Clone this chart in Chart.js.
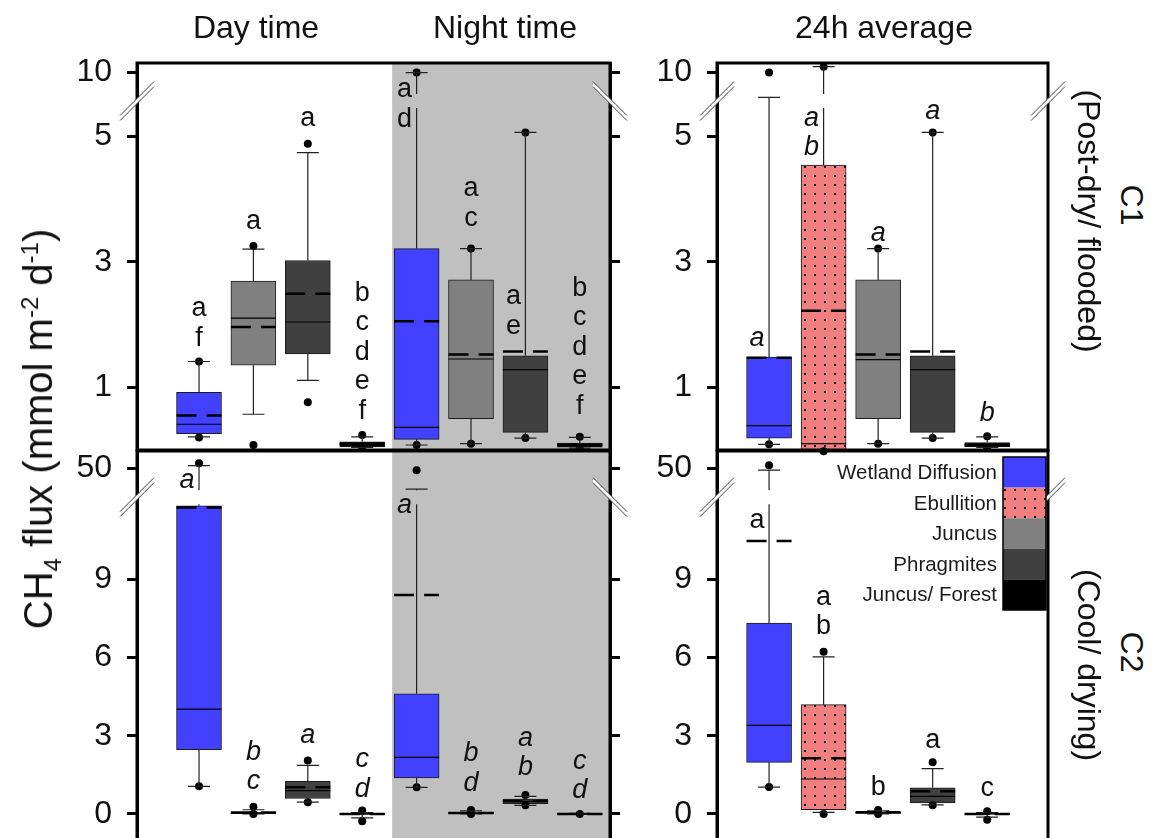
<!DOCTYPE html>
<html>
<head>
<meta charset="utf-8">
<script src="https://cdn.jsdelivr.net/npm/chart.js@4.4.1/dist/chart.umd.min.js"></script>
<style>
  html, body { margin: 0; padding: 0; background: #fff; overflow: hidden; }
  body { width: 1153px; height: 838px; position: relative; font-family: "Liberation Sans", Arial, sans-serif; color: #111; }
  canvas { position: absolute; }
  .title { position: absolute; top: 11px; font-size: 32px; line-height: 32px; white-space: nowrap; transform: translateX(-50%); }
  .rot { position: absolute; font-size: 32px; line-height: 32px; white-space: nowrap; transform: translate(-50%, -50%) rotate(90deg); }
  #ytitle { font-size: 40px; line-height: 40px; transform: translate(-50%, -50%) rotate(-90deg); }
  sub, sup { font-size: 60%; line-height: 0; }
</style>
</head>
<body>
<canvas id="c1left" width="650" height="460" style="left:0;top:0"></canvas>
<canvas id="c1right" width="430" height="460" style="left:640px;top:0"></canvas>
<canvas id="c2left" width="650" height="410" style="left:0;top:440px"></canvas>
<canvas id="c2right" width="430" height="410" style="left:640px;top:440px"></canvas>

<div class="title" style="left:256px">Day time</div>
<div class="title" style="left:505px">Night time</div>
<div class="title" style="left:884px">24h average</div>
<div class="rot" id="ytitle" style="left:38px;top:429px">CH<sub>4</sub> flux (mmol m<sup>-2</sup> d<sup>-1</sup>)</div>
<div class="rot" style="left:1132px;top:205px">C1</div>
<div class="rot" style="left:1089px;top:221px">(Post-dry/ flooded)</div>
<div class="rot" style="left:1132px;top:652px">C2</div>
<div class="rot" style="left:1089px;top:665px">(Cool/ drying)</div>

<script>
const groups = ["Wetland Diffusion", "Ebullition", "Juncus", "Phragmites", "Juncus/ Forest"]
const dayNightGroups = [0, 2, 3, 4, 0, 2, 3, 4]   // day time then night time
const avgGroups = [0, 1, 2, 3, 4]

const c1Ticks = [1, 3, 5, 10]
const c2Ticks = [0, 3, 6, 9, 50]

// box rows: [lower whisker, Q1, median, Q3, upper whisker, mean]
const c1DayNight = [
  [0.21, 0.26, 0.41, 0.92, 1.41, 0.55],
  [0.57, 1.35, 2.10, 2.69, 3.20, 1.96],
  [1.11, 1.53, 2.04, 3.02, 4.74, 2.49],
  [0.04, 0.05, 0.09, 0.13, 0.21, 0.09],
  [0.08, 0.17, 0.36, 3.21, 10.0, 2.05],
  [0.10, 0.50, 1.45, 2.71, 3.21, 1.52],
  [0.19, 0.28, 1.28, 1.50, 5.06, 1.57],
  [0.03, 0.045, 0.08, 0.11, 0.20, 0.08]
]
const c1DayNightOut = [[1.41, 0.20], [3.25, 0.08], [4.88, 0.76], [0.24, 0.03], [10.0, 0.08], [3.21, 0.10], [5.06, 0.19], [0.21, 0.02]]

const c1Avg = [
  [0.09, 0.19, 0.39, 1.48, 7.44, 1.47],
  [-0.02, 0.0, 0.10, 4.54, 10.6, 2.22],
  [0.10, 0.50, 1.44, 2.71, 3.21, 1.52],
  [0.19, 0.28, 1.28, 1.50, 5.06, 1.57],
  [0.04, 0.05, 0.08, 0.12, 0.21, 0.08]
]
const c1AvgOut = [[10.0, 0.09], [10.6, -0.02], [3.21, 0.10], [5.06, 0.19], [0.22, 0.03]]

const c2DayNight = [
  [1.06, 2.46, 4.02, 11.82, 50.9, 11.75],
  [0.0, 0.01, 0.03, 0.06, 0.16, 0.05],
  [0.45, 0.59, 0.89, 1.25, 1.86, 1.02],
  [-0.15, -0.02, 0.0, 0.02, 0.05, 0.0],
  [1.02, 1.38, 2.17, 4.61, 42.4, 8.40],
  [0.0, 0.01, 0.03, 0.06, 0.12, 0.04],
  [0.33, 0.39, 0.48, 0.57, 0.67, 0.50],
  [-0.02, -0.01, 0.0, 0.01, 0.02, 0.0]
]
const c2DayNightOut = [[51.8, 1.06], [0.28, 0.0], [2.05, 0.45], [0.13, -0.28], [49.3, 1.02], [0.15, 0.0], [0.73, 0.33], [0.0]]

const c2Avg = [
  [1.03, 1.98, 3.40, 7.32, 49.3, 10.47],
  [0.06, 0.16, 1.34, 4.19, 6.02, 2.14],
  [0.0, 0.02, 0.05, 0.07, 0.12, 0.06],
  [0.35, 0.42, 0.67, 1.00, 1.74, 0.87],
  [-0.12, -0.01, 0.0, 0.01, 0.05, 0.0]
]
const c2AvgOut = [[51.1, 1.03], [6.22, 0.0], [0.15, 0.0], [1.98, 0.33], [0.1, -0.22]]

// significance letters (one per line) and the value of the first line
const c1DayNightLetters = ["af", "a", "a", "bcdef", "ad", "ac", "ae", "bcdef"]
const c1DayNightLetterAt = [2.27, 3.65, 5.30, 2.51, 8.35, 4.18, 2.46, 2.59]
const c1AvgLetters = ["a", "ab", "a", "a", "b"]
const c1AvgLetterAt = [1.80, 5.30, 3.47, 5.41, 0.60]
const c2DayNightLetters = ["a", "bc", "a", "cd", "a", "bd", "ab", "cd"]
const c2DayNightLetterAt = [45.8, 2.40, 3.04, 2.11, 11.85, 2.34, 2.94, 2.05]
const c2AvgLetters = ["a", "ab", "b", "a", "c"]
const c2AvgLetterAt = [11.28, 8.34, 1.06, 2.87, 1.0]

const FONT = '"Liberation Sans", Arial, sans-serif'
const SHADE = "#c0c0c0"
const groupFill = ["#4141ff", null, "#808080", "#404040", "#000000"]

// broken axes: lower part linear, upper part squeezed
const fwdC1 = v => v <= 5.55 ? v : 5.55 + (v - 7) * 0.155
const fwdC2 = v => v <= 12.1 ? v : 12.2 + (v - 40) * 0.106

Chart.defaults.font.family = FONT

function dotPattern(ctx) {
  const t = document.createElement("canvas")
  t.width = 10; t.height = 9
  const g = t.getContext("2d")
  g.fillStyle = "#f27f7f"; g.fillRect(0, 0, 10, 9)
  g.fillStyle = "#000"; g.fillRect(4, 4, 2, 2)
  return ctx.createPattern(t, "repeat")
}
function fillFor(ctx, gi) { return gi === 1 ? dotPattern(ctx) : groupFill[gi] }

function breakMark(ctx, x, y, dir) {
  const dx = 17, dy = 17 * dir, g = 2.5
  ctx.save()
  ctx.fillStyle = "#fff"
  ctx.beginPath()
  ctx.moveTo(x - dx, y + dy - g); ctx.lineTo(x + dx, y - dy - g)
  ctx.lineTo(x + dx, y - dy + g); ctx.lineTo(x - dx, y + dy + g)
  ctx.closePath(); ctx.fill()
  ctx.strokeStyle = "#444"; ctx.lineWidth = 1
  ctx.beginPath()
  ctx.moveTo(x - dx, y + dy - g); ctx.lineTo(x + dx, y - dy - g)
  ctx.moveTo(x - dx, y + dy + g); ctx.lineTo(x + dx, y - dy + g)
  ctx.stroke()
  ctx.restore()
}

function yAxis(cfg, side, labels) {
  return {
    type: "linear", position: side, min: cfg.ymin, max: cfg.ymax,
    afterBuildTicks: s => { s.ticks = cfg.ticks.map(v => ({ value: cfg.fwd(v) })) },
    afterFit: s => { s.width = side === "left" ? cfg.axisWidth : 30; s.paddingTop = 0; s.paddingBottom = 0 },
    ticks: { display: labels, autoSkip: false, padding: 15, color: "#111", font: { size: 32 }, callback: (v, i) => String(cfg.ticks[i]) },
    grid: { drawOnChartArea: false, drawTicks: true, tickLength: 10, tickWidth: 3, tickColor: "#000" },
    border: { display: true, width: 3, color: "#000" }
  }
}

function makePanel(id, cfg) {
  const canvas = document.getElementById(id)
  const ctx = canvas.getContext("2d")
  const f = cfg.fwd

  const parts = {
    id: "parts",
    beforeDraw(chart) {
      if (cfg.shadeFrom == null) return
      const { ctx, chartArea: a, scales: { x } } = chart
      const x0 = x.getPixelForValue(cfg.shadeFrom)
      ctx.save(); ctx.fillStyle = SHADE
      ctx.fillRect(x0, a.top, a.right - x0, a.bottom - a.top)
      ctx.restore()
    },
    afterDatasetsDraw(chart) {
      const { ctx, chartArea: a, scales: { x, y } } = chart
      const half = 22.5, cap = 11
      const by = y.getPixelForValue(cfg.brk)
      const vline = (cx, y1, y2) => {
        const top = Math.min(y1, y2), bot = Math.max(y1, y2)
        if (top < by - 7 && bot > by + 7) {
          ctx.moveTo(cx, top); ctx.lineTo(cx, by - 7)
          ctx.moveTo(cx, by + 7); ctx.lineTo(cx, bot)
        } else { ctx.moveTo(cx, top); ctx.lineTo(cx, bot) }
      }
      ctx.save()
      cfg.rows.forEach((r, i) => {
        const cx = x.getPixelForValue(i)
        const [lo, q1, med, q3, hi, mean] = r.map(v => y.getPixelForValue(f(v)))
        ctx.setLineDash([]); ctx.strokeStyle = "#222"; ctx.lineWidth = 1.2
        ctx.beginPath()
        vline(cx, q3, hi); ctx.moveTo(cx - cap, hi); ctx.lineTo(cx + cap, hi)
        vline(cx, q1, lo); ctx.moveTo(cx - cap, lo); ctx.lineTo(cx + cap, lo)
        ctx.stroke()
        ctx.strokeStyle = "#000"
        ctx.beginPath(); ctx.moveTo(cx - half, med); ctx.lineTo(cx + half, med); ctx.stroke()
        ctx.lineWidth = 2.5; ctx.setLineDash([20, 10])
        ctx.beginPath(); ctx.moveTo(cx - half, mean); ctx.lineTo(cx + half, mean); ctx.stroke()
      })
      ctx.setLineDash([])

      // letters
      ctx.font = (cfg.italic ? "italic " : "") + "27px " + FONT
      ctx.textAlign = "center"; ctx.textBaseline = "middle"
      cfg.letters.forEach((s, i) => {
        const onWhisker = cfg.letterAt[i] < cfg.rows[i][4]
        const cx = x.getPixelForValue(i) + (onWhisker ? -12 : 0)
        const y0 = y.getPixelForValue(f(cfg.letterAt[i]))
        const bg = cfg.shadeFrom != null && i > cfg.shadeFrom ? SHADE : "#fff"
        Array.from(s).forEach((ch, k) => {
          const cy = y0 + k * 29.5
          const w = ctx.measureText(ch).width
          ctx.fillStyle = bg; ctx.fillRect(cx - w / 2 - 2, cy - 12, w + 4, 24)
          ctx.fillStyle = "#111"; ctx.fillText(ch, cx, cy + 1)
        })
      })

      // frame + axis breaks
      ctx.lineWidth = 3; ctx.strokeStyle = "#000"
      ctx.strokeRect(a.left, a.top, a.right - a.left, a.bottom - a.top)
      breakMark(ctx, a.left, by, 1)
      breakMark(ctx, a.right, by, cfg.rightDir)

      if (cfg.legend) {
        const rowH = 30.6, w = 43, right = a.right - 2, top = a.top + 6
        ctx.font = "20.5px " + FONT; ctx.textAlign = "right"; ctx.textBaseline = "middle"
        groups.forEach((name, k) => {
          ctx.fillStyle = fillFor(ctx, k)
          ctx.fillRect(right - w, top + k * rowH, w, rowH)
          ctx.fillStyle = "#1a1a1a"
          ctx.fillText(name, right - w - 6, top + k * rowH + rowH / 2 + 1)
        })
        ctx.lineWidth = 1.5; ctx.strokeStyle = "#000"
        ctx.strokeRect(right - w, top, w, rowH * groups.length)
      }
      ctx.restore()
    }
  }

  const scales = {
    x: { type: "linear", min: cfg.xmin, max: cfg.xmax, display: false, offset: false },
    y: yAxis(cfg, "left", true)
  }
  if (cfg.rightTicks) scales.y2 = yAxis(cfg, "right", false)

  return new Chart(ctx, {
    type: "bar",
    data: {
      datasets: [
        {
          type: "bar",
          data: cfg.rows.map((r, i) => ({ x: i, y: [f(r[1]), f(r[3])] })),
          backgroundColor: cfg.groupIdx.map(g => fillFor(ctx, g)),
          borderColor: "#1c1c1c", borderWidth: 1, borderSkipped: false,
          barThickness: 45, grouped: false, order: 2
        },
        {
          type: "scatter",
          data: cfg.out.flatMap((list, i) => list.map(v => ({ x: i, y: f(v) }))),
          pointRadius: 4, pointHoverRadius: 4, backgroundColor: "#000", borderWidth: 0,
          clip: false, order: 1
        }
      ]
    },
    options: {
      responsive: false, animation: false, events: [],
      layout: { padding: cfg.padding },
      plugins: { legend: { display: false }, tooltip: { enabled: false } },
      scales
    },
    plugins: [parts]
  })
}

makePanel("c1left", {
  rows: c1DayNight, out: c1DayNightOut, groupIdx: dayNightGroups,
  letters: c1DayNightLetters, letterAt: c1DayNightLetterAt, italic: false,
  fwd: fwdC1, ticks: c1Ticks, ymin: 0, ymax: 6.167, brk: 5.56,
  xmin: -1.14, xmax: 7.555, shadeFrom: 3.55, rightTicks: true, rightDir: -1,
  axisWidth: 137, padding: { left: 0, right: 10, top: 63, bottom: 10 }
})
makePanel("c1right", {
  rows: c1Avg, out: c1AvgOut, groupIdx: avgGroups,
  letters: c1AvgLetters, letterAt: c1AvgLetterAt, italic: true,
  fwd: fwdC1, ticks: c1Ticks, ymin: 0, ymax: 6.167, brk: 5.56,
  xmin: -0.955, xmax: 5.115, shadeFrom: null, rightTicks: false, rightDir: 1,
  axisWidth: 77, padding: { left: 0, right: 22, top: 63, bottom: 10 }
})
makePanel("c2left", {
  rows: c2DayNight, out: c2DayNightOut, groupIdx: dayNightGroups,
  letters: c2DayNightLetters, letterAt: c2DayNightLetterAt, italic: true,
  fwd: fwdC2, ticks: c2Ticks, ymin: -1, ymax: 13.92, brk: 12.15,
  xmin: -1.14, xmax: 7.555, shadeFrom: 3.55, rightTicks: true, rightDir: -1,
  axisWidth: 137, padding: { left: 0, right: 10, top: 11, bottom: 10 }
})
makePanel("c2right", {
  rows: c2Avg, out: c2AvgOut, groupIdx: avgGroups,
  letters: c2AvgLetters, letterAt: c2AvgLetterAt, italic: false,
  fwd: fwdC2, ticks: c2Ticks, ymin: -1, ymax: 13.92, brk: 12.15,
  xmin: -0.955, xmax: 5.115, shadeFrom: null, rightTicks: false, rightDir: 1, legend: true,
  axisWidth: 77, padding: { left: 0, right: 22, top: 11, bottom: 10 }
})
</script>
</body>
</html>
